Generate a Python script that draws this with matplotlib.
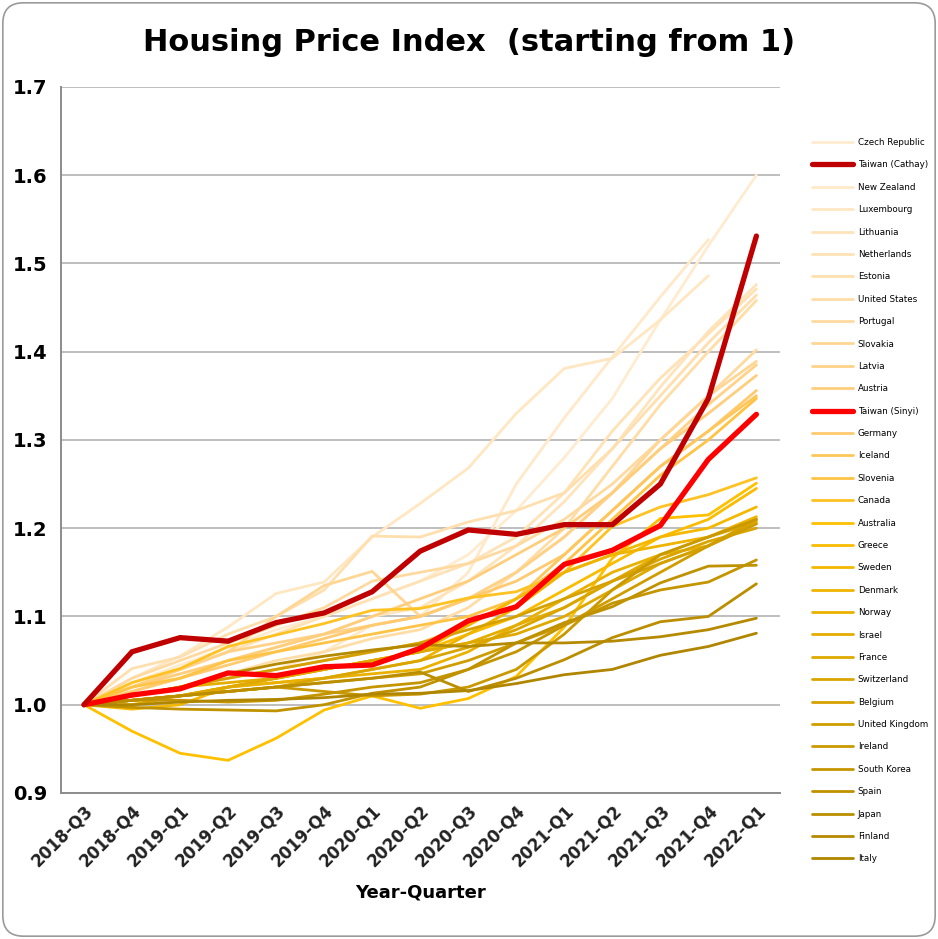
import numpy as np
import matplotlib
matplotlib.use("Agg")
import matplotlib.pyplot as plt
from matplotlib.patches import FancyBboxPatch

quarters = ["2018-Q3", "2018-Q4", "2019-Q1", "2019-Q2", "2019-Q3", "2019-Q4",
            "2020-Q1", "2020-Q2", "2020-Q3", "2020-Q4", "2021-Q1", "2021-Q2",
            "2021-Q3", "2021-Q4", "2022-Q1"]

# legend order (top to bottom)
countries = ["Czech Republic", "Taiwan (Cathay)", "New Zealand", "Luxembourg", "Lithuania",
             "Netherlands", "Estonia", "United States", "Portugal", "Slovakia", "Latvia",
             "Austria", "Taiwan (Sinyi)", "Germany", "Iceland", "Slovenia", "Canada",
             "Australia", "Greece", "Sweden", "Denmark", "Norway", "Israel", "France",
             "Switzerland", "Belgium", "United Kingdom", "Ireland", "South Korea", "Spain",
             "Japan", "Finland", "Italy"]

nan = np.nan
czech = [1.0, 1.025, 1.045, 1.065, 1.085, 1.10, 1.12, 1.14, 1.17, 1.22, 1.28, 1.347, 1.436, 1.52, 1.60]
cathay = [1.0, 1.06, 1.076, 1.072, 1.093, 1.104, 1.128, 1.174, 1.198, 1.193, 1.204, 1.204, 1.25, 1.347, 1.531]
new_zealand = [1.0, 1.01, 1.02, 1.03, 1.04, 1.06, 1.09, 1.10, 1.15, 1.25, 1.325, 1.394, 1.462, 1.527, nan]
luxembourg = [1.0, 1.03, 1.055, 1.088, 1.126, 1.139, 1.19, 1.228, 1.268, 1.33, 1.381, 1.3925, 1.436, 1.486, nan]
lithuania = [1.0, 1.015, 1.03, 1.05, 1.065, 1.08, 1.10, 1.11, 1.14, 1.18, 1.23, 1.29, 1.36, 1.423, 1.476]
netherlands = [1.0, 1.02, 1.04, 1.06, 1.08, 1.10, 1.12, 1.14, 1.16, 1.19, 1.24, 1.31, 1.37, 1.42, 1.471]
estonia = [1.0, 1.041, 1.054, 1.08, 1.10, 1.13, 1.191, 1.19, 1.207, 1.22, 1.24, 1.29, 1.35, 1.41, 1.464]
united_states = [1.0, 1.01, 1.02, 1.035, 1.05, 1.06, 1.075, 1.085, 1.11, 1.15, 1.20, 1.27, 1.34, 1.40, 1.458]
portugal = [1.0, 1.03, 1.05, 1.07, 1.09, 1.11, 1.14, 1.15, 1.16, 1.18, 1.21, 1.25, 1.30, 1.35, 1.402]
slovakia = [1.0, 1.02, 1.04, 1.06, 1.10, 1.135, 1.151, 1.10, 1.12, 1.15, 1.19, 1.24, 1.30, 1.35, 1.389]
latvia = [1.0, 1.02, 1.04, 1.06, 1.07, 1.08, 1.09, 1.10, 1.12, 1.15, 1.19, 1.24, 1.29, 1.34, 1.385]
austria = [1.0, 1.02, 1.035, 1.05, 1.065, 1.08, 1.10, 1.12, 1.14, 1.17, 1.20, 1.24, 1.29, 1.33, 1.373]
sinyi = [1.0, 1.011, 1.018, 1.036, 1.033, 1.043, 1.045, 1.064, 1.095, 1.111, 1.159, 1.175, 1.203, 1.278, 1.329]
germany = [1.0, 1.015, 1.03, 1.045, 1.06, 1.075, 1.09, 1.10, 1.12, 1.14, 1.17, 1.22, 1.27, 1.31, 1.356]
iceland = [1.0, 1.01, 1.02, 1.03, 1.04, 1.05, 1.06, 1.07, 1.09, 1.12, 1.17, 1.22, 1.27, 1.31, 1.35]
slovenia = [1.0, 1.02, 1.03, 1.05, 1.06, 1.07, 1.08, 1.09, 1.10, 1.12, 1.16, 1.21, 1.26, 1.30, 1.347]
canada = [1.0, 1.025, 1.041, 1.066, 1.079, 1.092, 1.107, 1.109, 1.121, 1.128, 1.15, 1.202, 1.224, 1.238, 1.257]
australia = [1.0, 0.97, 0.945, 0.937, 0.962, 0.994, 1.010, 0.996, 1.007, 1.032, 1.088, 1.166, 1.211, 1.215, 1.251]
greece = [1.0, 1.005, 1.01, 1.02, 1.03, 1.04, 1.05, 1.06, 1.08, 1.10, 1.13, 1.16, 1.19, 1.21, 1.245]
sweden = [1.0, 0.995, 1.0, 1.02, 1.03, 1.04, 1.05, 1.06, 1.09, 1.12, 1.15, 1.17, 1.19, 1.20, 1.224]
denmark = [1.0, 1.005, 1.01, 1.02, 1.025, 1.03, 1.04, 1.05, 1.08, 1.11, 1.15, 1.17, 1.18, 1.19, 1.213]
norway = [1.0, 1.0, 1.01, 1.02, 1.025, 1.03, 1.035, 1.04, 1.06, 1.09, 1.12, 1.15, 1.17, 1.18, 1.209]
israel = [1.0, 1.01, 1.02, 1.025, 1.03, 1.04, 1.05, 1.06, 1.07, 1.09, 1.11, 1.14, 1.17, 1.19, 1.207]
france = [1.0, 1.005, 1.01, 1.02, 1.03, 1.04, 1.05, 1.06, 1.07, 1.08, 1.10, 1.13, 1.16, 1.18, 1.205]
switzerland = [1.0, 1.005, 1.01, 1.015, 1.02, 1.03, 1.04, 1.05, 1.065, 1.085, 1.11, 1.14, 1.165, 1.185, 1.20]
belgium = [1.0, 1.01, 1.02, 1.03, 1.04, 1.05, 1.06, 1.07, 1.085, 1.10, 1.12, 1.14, 1.16, 1.18, 1.21]
united_kingdom = [1.0, 1.005, 1.01, 1.015, 1.02, 1.025, 1.03, 1.035, 1.05, 1.07, 1.09, 1.12, 1.15, 1.18, 1.205]
ireland = [1.0, 1.005, 1.01, 1.015, 1.02, 1.015, 1.01, 1.012, 1.02, 1.04, 1.08, 1.13, 1.17, 1.19, 1.21]
south_korea = [1.0, 1.005, 1.005, 1.003, 1.005, 1.012, 1.02, 1.025, 1.04, 1.06, 1.09, 1.115, 1.13, 1.139, 1.164]
spain = [1.0, 0.997, 0.995, 0.994, 0.993, 1.0, 1.013, 1.02, 1.04, 1.07, 1.093, 1.111, 1.138, 1.157, 1.158]
japan = [1.0, 1.005, 1.01, 1.015, 1.02, 1.025, 1.03, 1.037, 1.015, 1.03, 1.051, 1.076, 1.094, 1.10, 1.137]
finland = [1.0, 1.01, 1.02, 1.035, 1.046, 1.055, 1.062, 1.068, 1.066, 1.07, 1.07, 1.072, 1.077, 1.085, 1.098]
italy = [1.0, 1.0, 1.003, 1.005, 1.006, 1.008, 1.012, 1.013, 1.016, 1.024, 1.034, 1.040, 1.056, 1.066, 1.081]

series = [czech, cathay, new_zealand, luxembourg, lithuania, netherlands, estonia,
          united_states, portugal, slovakia, latvia, austria, sinyi, germany, iceland,
          slovenia, canada, australia, greece, sweden, denmark, norway, israel, france,
          switzerland, belgium, united_kingdom, ireland, south_korea, spain, japan,
          finland, italy]

# colour ramp: pale peach -> gold -> dark gold
stops = [0, 7, 11, 13, 15, 30]
stop_rgb = np.array([(255, 236, 208), (255, 218, 160), (255, 202, 112),
                     (255, 195, 70), (255, 192, 0), (176, 134, 0)]) / 255.0
others = [c for c in countries if not c.startswith("Taiwan")]
ramp = {}
for k, c in enumerate(others):
    ramp[c] = tuple(np.interp(k, stops, stop_rgb[:, j]) for j in range(3))
ramp["Taiwan (Cathay)"] = "#C00000"
ramp["Taiwan (Sinyi)"] = "#FF0000"

fig = plt.figure(figsize=(9.38, 9.39), dpi=100)
ax = fig.add_axes([0.065, 0.1555, 0.767, 0.752])

x = np.arange(len(quarters))
handles = {}
draw_order = [c for c in countries if not c.startswith("Taiwan")] + ["Taiwan (Sinyi)", "Taiwan (Cathay)"]
for c in draw_order:
    vals = series[countries.index(c)]
    lw = 3.8 if c.startswith("Taiwan") else 2.0
    ln, = ax.plot(x, vals, color=ramp[c], lw=lw, solid_capstyle="round",
                  solid_joinstyle="miter", label=c)
    handles[c] = ln

ax.set_xlim(-0.48, 14.5)
ax.set_ylim(0.9, 1.7)
ax.set_yticks(np.arange(0.9, 1.71, 0.1))
ax.set_yticklabels([f"{v:.1f}" for v in np.arange(0.9, 1.71, 0.1)],
                   fontsize=14, fontweight="bold")
ax.set_xticks(x)
ax.set_xticklabels(quarters, rotation=45, ha="right", rotation_mode="anchor",
                   fontsize=12, fontweight="bold", color="#222222")
ax.tick_params(axis="both", length=0, pad=10)
ax.tick_params(axis="x", pad=6)
ax.grid(axis="y", color="#B3B3B3", lw=1.2)
ax.set_axisbelow(True)
for s in ["top", "right"]:
    ax.spines[s].set_visible(False)
ax.spines["left"].set_color("#8C8C8C")
ax.spines["bottom"].set_color("#8C8C8C")
ax.spines["left"].set_linewidth(1.4)
ax.spines["bottom"].set_linewidth(1.4)

ax.set_xlabel("Year-Quarter", fontsize=13, fontweight="bold", labelpad=10)
fig.text(0.5, 0.955, "Housing Price Index  (starting from 1)", ha="center", va="center",
         fontsize=22, fontweight="bold")

fig.legend([handles[c] for c in countries], countries, loc="upper left",
           bbox_to_anchor=(0.866, 0.853), frameon=False, fontsize=6.3,
           handlelength=4.6, handletextpad=0.6, labelspacing=1.53,
           borderpad=0, borderaxespad=0)

border = FancyBboxPatch((0.003, 0.003), 0.994, 0.994, boxstyle="round,pad=0,rounding_size=0.022",
                        transform=fig.transFigure, fill=False, edgecolor="#9A9A9A", lw=1.2)
fig.patches.append(border)

fig.savefig("out.png", dpi=100)
